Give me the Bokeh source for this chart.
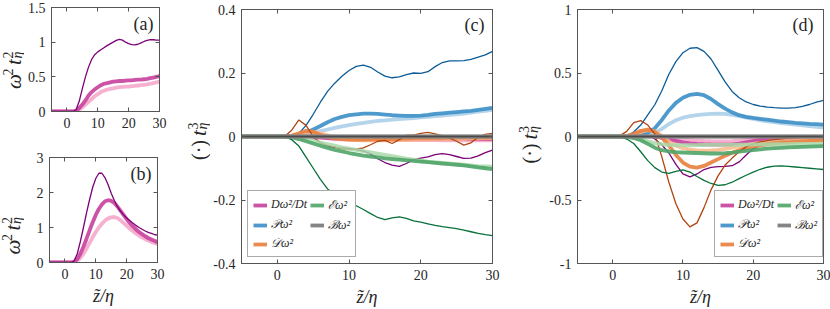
import math
from bokeh.plotting import figure
from bokeh.models import (Label, FixedTicker, LinearAxis, Legend, LegendItem,
                          Range1d, CustomJSTickFormatter)
from bokeh.layouts import row, column
from bokeh.embed import file_html
from bokeh.resources import INLINE

# ---------------- data ----------------
z = list(range(-5, 31))

# panel (a): omega^2 t_eta^2 (three cases)
a_dark = [0, 0, 0, 0, 0, 0, 0, 0.0, 0.03, 0.15, 0.33, 0.5, 0.64, 0.75, 0.82, 0.86, 0.89, 0.92, 0.95, 0.975,
          1.0, 1.025, 1.04, 1.03, 1.0, 0.98, 0.965, 0.96, 0.97, 0.99, 1.01, 1.025, 1.035, 1.035, 1.03, 1.03]
a_med = [0, 0, 0, 0, 0, 0, 0, 0.0, 0.01, 0.05, 0.1, 0.16, 0.23, 0.28, 0.32, 0.35, 0.38, 0.4, 0.41, 0.42,
         0.43, 0.435, 0.44, 0.44, 0.445, 0.45, 0.45, 0.455, 0.46, 0.46, 0.465, 0.47, 0.48, 0.49, 0.5, 0.51]
a_light = [0, 0, 0, 0, 0, 0, 0, 0.0, 0.005, 0.03, 0.06, 0.1, 0.14, 0.18, 0.22, 0.25, 0.28, 0.3, 0.315, 0.325,
           0.335, 0.345, 0.35, 0.355, 0.36, 0.36, 0.365, 0.37, 0.375, 0.38, 0.385, 0.39, 0.4, 0.41, 0.42, 0.43]

# panel (b)
b_dark = [0, 0, 0, 0, 0, 0, 0, 0.0, 0.05, 0.25, 0.6, 1.0, 1.42, 1.8, 2.15, 2.4, 2.55, 2.55, 2.42, 2.22,
          1.98, 1.77, 1.6, 1.47, 1.36, 1.27, 1.2, 1.13, 1.06, 1.0, 0.95, 0.9, 0.86, 0.83, 0.8, 0.78]
b_med = [0, 0, 0, 0, 0, 0, 0, 0.0, 0.02, 0.1, 0.25, 0.45, 0.68, 0.92, 1.15, 1.36, 1.53, 1.66, 1.75, 1.78,
         1.76, 1.7, 1.6, 1.48, 1.36, 1.24, 1.13, 1.03, 0.95, 0.87, 0.81, 0.75, 0.7, 0.66, 0.62, 0.58]
b_light = [0, 0, 0, 0, 0, 0, 0, 0.0, 0.01, 0.05, 0.13, 0.25, 0.4, 0.56, 0.72, 0.87, 1.0, 1.11, 1.2, 1.26,
           1.29, 1.3, 1.27, 1.21, 1.13, 1.05, 0.97, 0.9, 0.83, 0.77, 0.72, 0.67, 0.63, 0.59, 0.56, 0.53]

# panel (c): budget terms
c_M_dark = [0, 0, 0, 0, 0, 0, 0, 0.002, 0.008, 0.01, -0.003, -0.02, -0.03, -0.034, -0.036, -0.038, -0.041, -0.046, -0.055, -0.07,
            -0.082, -0.09, -0.094, -0.085, -0.072, -0.068, -0.064, -0.057, -0.054, -0.057, -0.063, -0.069, -0.068, -0.061, -0.051, -0.043]
c_M_med = [0, 0, 0, 0, 0, 0, 0, 0.0, 0.002, 0.003, 0.0, -0.003, -0.005, -0.006, -0.007, -0.008, -0.008, -0.008, -0.008, -0.008,
           -0.008, -0.008, -0.008, -0.008, -0.008, -0.008, -0.008, -0.008, -0.008, -0.008, -0.008, -0.008, -0.008, -0.008, -0.008, -0.008]
c_M_light = [0, 0, 0, 0, 0, 0, 0, 0.0, 0.001, 0.002, -0.001, -0.004, -0.006, -0.008, -0.009, -0.01, -0.01, -0.011, -0.011, -0.011,
             -0.011, -0.011, -0.011, -0.011, -0.011, -0.011, -0.011, -0.011, -0.012, -0.012, -0.012, -0.012, -0.012, -0.012, -0.012, -0.012]
c_P_dark = [0, 0, 0, 0, 0, 0, 0, 0.0, 0.01, 0.035, 0.07, 0.108, 0.142, 0.168, 0.19, 0.208, 0.221, 0.225, 0.218, 0.203,
            0.19, 0.185, 0.188, 0.195, 0.2, 0.199, 0.204, 0.22, 0.233, 0.238, 0.238, 0.239, 0.243, 0.25, 0.257, 0.268]
c_P_med = [0, 0, 0, 0, 0, 0, 0, 0.0, 0.003, 0.012, 0.022, 0.033, 0.045, 0.055, 0.062, 0.067, 0.07, 0.072, 0.072, 0.071,
           0.069, 0.067, 0.066, 0.065, 0.065, 0.066, 0.068, 0.071, 0.073, 0.075, 0.077, 0.079, 0.081, 0.084, 0.087, 0.09]
c_P_light = [0, 0, 0, 0, 0, 0, 0, 0.0, 0.002, 0.006, 0.011, 0.017, 0.022, 0.027, 0.032, 0.036, 0.04, 0.043, 0.046, 0.049,
             0.051, 0.053, 0.055, 0.056, 0.058, 0.06, 0.062, 0.064, 0.066, 0.068, 0.07, 0.072, 0.075, 0.078, 0.081, 0.084]
c_D_dark = [0, 0, 0, 0, 0, 0, 0, 0.02, 0.052, 0.035, 0.0, -0.02, -0.028, -0.033, -0.038, -0.041, -0.04, -0.036, -0.026, -0.015,
            -0.012, -0.022, -0.01, 0.004, 0.004, 0.01, 0.013, 0.008, 0.003, -0.005, -0.015, -0.027, -0.02, -0.002, 0.007, 0.01]
c_D_med = [0, 0, 0, 0, 0, 0, 0, 0.003, 0.01, 0.018, 0.015, 0.005, -0.002, -0.006, -0.008, -0.01, -0.01, -0.01, -0.009, -0.008,
           -0.008, -0.008, -0.007, -0.006, -0.005, -0.004, -0.004, -0.004, -0.004, -0.003, -0.003, -0.003, -0.003, -0.003, -0.003, -0.003]
c_D_light = [0, 0, 0, 0, 0, 0, 0, 0.002, 0.006, 0.012, 0.014, 0.01, 0.004, -0.002, -0.006, -0.009, -0.011, -0.012, -0.012, -0.012,
             -0.012, -0.011, -0.011, -0.011, -0.01, -0.01, -0.01, -0.009, -0.009, -0.009, -0.008, -0.008, -0.007, -0.007, -0.006, -0.006]
c_E_dark = [0, 0, 0, 0, 0, 0, 0, -0.01, -0.03, -0.065, -0.1, -0.135, -0.165, -0.183, -0.195, -0.206, -0.218, -0.23, -0.243, -0.255,
            -0.262, -0.256, -0.253, -0.258, -0.266, -0.27, -0.275, -0.28, -0.284, -0.287, -0.29, -0.295, -0.3, -0.305, -0.309, -0.312]
c_E_med = [0, 0, 0, 0, 0, 0, 0, -0.003, -0.008, -0.015, -0.022, -0.029, -0.036, -0.042, -0.047, -0.052, -0.056, -0.06, -0.063, -0.066,
           -0.069, -0.071, -0.073, -0.075, -0.077, -0.079, -0.081, -0.083, -0.085, -0.087, -0.089, -0.091, -0.094, -0.097, -0.1, -0.103]
c_E_light = [0, 0, 0, 0, 0, 0, 0, -0.002, -0.005, -0.009, -0.014, -0.019, -0.024, -0.029, -0.034, -0.038, -0.042, -0.046, -0.05, -0.054,
             -0.058, -0.062, -0.066, -0.07, -0.073, -0.076, -0.079, -0.081, -0.083, -0.085, -0.087, -0.089, -0.091, -0.093, -0.094, -0.095]
c_B = [0, 0, 0, 0, 0, 0, 0, 0, 0, 0, 0, 0, 0, 0, 0, 0, 0, 0, 0, 0,
       0, 0, 0, 0, 0, 0, 0, 0, 0, 0, 0, 0, 0, 0, 0, 0]

# panel (d)
d_M_dark = [0, 0, 0, 0, 0, 0, 0, 0.0, 0.015, 0.03, 0.015, -0.02, -0.065, -0.13, -0.22, -0.295, -0.318, -0.295, -0.26, -0.243,
            -0.237, -0.236, -0.23, -0.2, -0.145, -0.095, -0.066, -0.05, -0.04, -0.032, -0.026, -0.021, -0.017, -0.013, -0.01, -0.008]
d_M_med = [0, 0, 0, 0, 0, 0, 0, 0.0, 0.005, 0.012, 0.01, 0.0, -0.01, -0.022, -0.035, -0.046, -0.054, -0.058, -0.061, -0.063,
           -0.064, -0.064, -0.062, -0.056, -0.046, -0.036, -0.027, -0.02, -0.015, -0.011, -0.009, -0.007, -0.006, -0.005, -0.004, -0.004]
d_M_light = [0, 0, 0, 0, 0, 0, 0, 0.0, 0.002, 0.005, 0.004, 0.0, -0.005, -0.011, -0.017, -0.023, -0.028, -0.032, -0.035, -0.037,
             -0.038, -0.038, -0.036, -0.032, -0.027, -0.022, -0.017, -0.013, -0.01, -0.008, -0.006, -0.005, -0.004, -0.003, -0.003, -0.002]
d_P_dark = [0, 0, 0, 0, 0, 0, 0, 0.005, 0.035, 0.09, 0.17, 0.25, 0.36, 0.49, 0.59, 0.66, 0.695, 0.7, 0.67, 0.61,
            0.52, 0.43, 0.355, 0.305, 0.272, 0.252, 0.24, 0.232, 0.227, 0.224, 0.224, 0.228, 0.238, 0.252, 0.27, 0.285]
d_P_med = [0, 0, 0, 0, 0, 0, 0, 0.0, 0.003, 0.012, 0.03, 0.065, 0.13, 0.205, 0.265, 0.305, 0.328, 0.336, 0.325, 0.295,
           0.255, 0.22, 0.19, 0.168, 0.155, 0.146, 0.139, 0.132, 0.125, 0.118, 0.113, 0.108, 0.104, 0.1, 0.097, 0.094]
d_P_light = [0, 0, 0, 0, 0, 0, 0, 0.0, 0.0, 0.003, 0.012, 0.03, 0.06, 0.098, 0.128, 0.148, 0.16, 0.168, 0.174, 0.178,
             0.18, 0.178, 0.17, 0.16, 0.148, 0.138, 0.128, 0.12, 0.113, 0.106, 0.1, 0.093, 0.087, 0.081, 0.076, 0.07]
d_D_dark = [0, 0, 0, 0, 0, 0, 0.005, 0.04, 0.11, 0.125, 0.09, 0.02, -0.16, -0.36, -0.53, -0.65, -0.712, -0.68, -0.56, -0.42,
            -0.31, -0.225, -0.17, -0.12, -0.08, -0.058, -0.043, -0.032, -0.024, -0.018, -0.013, -0.01, -0.007, -0.005, -0.003, -0.001]
d_D_med = [0, 0, 0, 0, 0, 0, 0, 0.005, 0.02, 0.045, 0.055, 0.035, -0.01, -0.07, -0.145, -0.205, -0.238, -0.245, -0.232, -0.205,
           -0.178, -0.152, -0.128, -0.108, -0.092, -0.079, -0.069, -0.061, -0.055, -0.05, -0.046, -0.042, -0.038, -0.035, -0.032, -0.03]
d_D_light = [0, 0, 0, 0, 0, 0, 0, 0.004, 0.015, 0.035, 0.05, 0.04, 0.005, -0.04, -0.072, -0.092, -0.103, -0.109, -0.111, -0.11,
             -0.105, -0.097, -0.088, -0.078, -0.068, -0.058, -0.05, -0.043, -0.037, -0.032, -0.028, -0.025, -0.023, -0.021, -0.02, -0.02]
d_E_dark = [0, 0, 0, 0, 0, 0, 0, -0.02, -0.055, -0.12, -0.19, -0.245, -0.28, -0.29, -0.275, -0.262, -0.28, -0.315, -0.345, -0.37,
            -0.385, -0.38, -0.36, -0.332, -0.305, -0.28, -0.258, -0.242, -0.233, -0.231, -0.235, -0.24, -0.245, -0.25, -0.255, -0.26]
d_E_med = [0, 0, 0, 0, 0, 0, 0, -0.003, -0.012, -0.03, -0.058, -0.088, -0.108, -0.118, -0.123, -0.126, -0.128, -0.13, -0.132, -0.134,
           -0.134, -0.132, -0.127, -0.12, -0.113, -0.107, -0.101, -0.096, -0.092, -0.089, -0.086, -0.084, -0.082, -0.08, -0.078, -0.076]
d_E_light = [0, 0, 0, 0, 0, 0, 0, -0.002, -0.008, -0.02, -0.037, -0.052, -0.061, -0.066, -0.068, -0.069, -0.069, -0.068, -0.067, -0.066,
             -0.066, -0.066, -0.065, -0.065, -0.064, -0.063, -0.062, -0.062, -0.061, -0.06, -0.06, -0.059, -0.059, -0.058, -0.058, -0.057]
d_B = [0, 0, 0, 0, 0, 0, 0, 0, 0, 0, 0, 0, 0, 0, 0, 0, 0, 0, 0, 0,
       0, 0, 0, 0, 0, 0, 0, 0, 0, 0, 0, 0, 0, 0, 0, 0]

x_ticks = [0, 10, 20, 30]
x_tick_labels = ["0", "10", "20", "30"]
a_yticks = [0, 0.5, 1, 1.5]
a_ylabels = ["0", "0.5", "1", "1.5"]
b_yticks = [0, 1, 2, 3]
b_ylabels = ["0", "1", "2", "3"]
c_yticks = [-0.4, -0.2, 0, 0.2, 0.4]
c_ylabels = ["-0.4", "-0.2", "0", "0.2", "0.4"]
d_yticks = [-1, -0.5, 0, 0.5, 1]
d_ylabels = ["-1", "-0.5", "0", "0.5", "1"]

legend_labels = ["D\u03c9\u00b2/Dt", "\U0001D4AB\u03c9\u00b2", "\U0001D49F\u03c9\u00b2", "\u2130\u03c9\u00b2", "\u212C\u03c9\u00b2"]
x_title = "z\u0303/\u03b7"

# ---------------- style ----------------
FONT = "Liberation Serif"
TXT = "#262626"
AX = "#555555"
MAG = ("#7a0177", "#c7409c", "#f4a3c8")
BLU = ("#0b5c98", "#3c8fc7", "#a7cde8")
ORA = ("#b04510", "#e8803f", "#fbb98a")
GRN = ("#08703a", "#4fa469", "#a9d9a8")
GRY = ("#4a4a4a", "#777777", "#bbbbbb")
XR = (-5, 30)


def base_fig(fw, fh, yr, bl, br, bt, bb):
    p = figure(frame_width=fw, frame_height=fh, x_range=Range1d(*XR), y_range=Range1d(*yr),
               output_backend="svg", toolbar_location=None,
               min_border_left=bl, min_border_right=br, min_border_top=bt, min_border_bottom=bb)
    p.grid.visible = False
    p.outline_line_color = AX
    p.background_fill_color = "white"
    p.border_fill_color = "white"
    return p


def style_axis(ax, ticks, labels, standoff=6):
    ax.ticker = FixedTicker(ticks=ticks, minor_ticks=[])
    if labels is None:
        ax.formatter = CustomJSTickFormatter(code="return ''")
        ax.major_label_text_font_size = "1px"
        ax.major_label_standoff = 0
    else:
        ax.major_label_overrides = {t: s for t, s in zip(ticks, labels)}
        ax.major_label_text_font = FONT
        ax.major_label_text_font_size = "14px"
        ax.major_label_text_color = TXT
        ax.major_label_standoff = standoff
    ax.axis_line_color = AX
    ax.major_tick_line_color = AX
    ax.major_tick_in = 4
    ax.major_tick_out = 0
    ax.minor_tick_line_color = None


def box_axes(p, yticks, ylabels, with_xtitle):
    xa = p.xaxis[0]
    style_axis(xa, x_ticks, x_tick_labels, 6)
    if with_xtitle:
        xa.axis_label = x_title
        xa.axis_label_text_font = FONT
        xa.axis_label_text_font_style = "italic"
        xa.axis_label_text_font_size = "18px"
        xa.axis_label_text_color = TXT
        xa.axis_label_standoff = 4
    style_axis(p.yaxis[0], yticks, ylabels, 6)
    top = LinearAxis()
    style_axis(top, x_ticks, None)
    p.add_layout(top, "above")
    rgt = LinearAxis()
    style_axis(rgt, yticks, None)
    p.add_layout(rgt, "right")


def draw_set(p, dark, med, light, cols):
    p.line(z, light, line_color=cols[2], line_width=3.8, line_alpha=0.85)
    rm = p.line(z, med, line_color=cols[1], line_width=3.8, line_alpha=0.9)
    p.line(z, dark, line_color=cols[0], line_width=1.3)
    return rm


def txt(p, x, y, text, size, italic=False, angle=0.0, align="left", baseline="alphabetic", dx=0, dy=0):
    p.add_layout(Label(x=x, y=y, text=text, x_offset=dx, y_offset=dy, angle=angle,
                       text_font=FONT, text_font_size=f"{size}px",
                       text_font_style="italic" if italic else "normal",
                       text_align=align, text_baseline=baseline, text_color=TXT))


def label_fig(w, h, mid_x, center_y, pieces, length):
    """Narrow strip holding a rotated y title; 1 data unit = 1 pixel.
    pieces: (text, along, perp, size, italic); perp > 0 moves toward the text's 'up' (screen left)."""
    f = figure(frame_width=w, frame_height=h, x_range=Range1d(0, w), y_range=Range1d(0, h),
               output_backend="svg", toolbar_location=None, x_axis_type=None, y_axis_type=None,
               min_border_left=0, min_border_right=0, min_border_top=0, min_border_bottom=0)
    f.grid.visible = False
    f.outline_line_color = None
    f.background_fill_color = "white"
    f.border_fill_color = "white"
    start = center_y - length / 2
    for t, along, perp, size, it in pieces:
        txt(f, mid_x - perp, start + along, t, size, it, angle=math.pi / 2, baseline="middle")
    return f


def tag(p, ymax, s, dx, dy):
    txt(p, XR[1], ymax, s, 18, False, align="right", baseline="top", dx=dx, dy=dy)


W2 = [("\u03c9", 0, 0, 21, True), ("2", 13.5, 6, 14, False), ("t", 24, 0, 21, True),
      ("2", 30.5, 6, 14, False), ("\u03b7", 30.5, -4, 14, True)]
W3 = [("(\u00b7)", 0, 0, 20, False), ("t", 24, 0, 21, True),
      ("3", 30.5, 6, 14, False), ("\u03b7", 30.5, -4, 14, True)]

# ---------------- panel (a) ----------------
pa = base_fig(108, 104, (0, 1.5), 25, 18, 7, 24)
box_axes(pa, a_yticks, a_ylabels, False)
draw_set(pa, a_dark, a_med, a_light, MAG)
tag(pa, 1.5, "(a)", -6, -6)
la = label_fig(24, 135, 13, 72.5, W2, 38)

# ---------------- panel (b) ----------------
pb = base_fig(108, 105, (0, 3), 25, 18, 22, 47)
box_axes(pb, b_yticks, b_ylabels, True)
draw_set(pb, b_dark, b_med, b_light, MAG)
tag(pb, 3, "(b)", -6, -6)
lb = label_fig(24, 174, 12, 96, W2, 38)


def budget(p, M, P, D, E, B, loc):
    rM = draw_set(p, *M, MAG)
    rP = draw_set(p, *P, BLU)
    rD = draw_set(p, *D, ORA)
    rE = draw_set(p, *E, GRN)
    rB = draw_set(p, *B, GRY)
    items = [LegendItem(label=legend_labels[0], renderers=[rM]),
             LegendItem(label=legend_labels[1], renderers=[rP]),
             LegendItem(label=legend_labels[2], renderers=[rD]),
             LegendItem(label=legend_labels[3], renderers=[rE]),
             LegendItem(label=legend_labels[4], renderers=[rB])]
    leg = Legend(items=items, location=loc, ncols=2,
                 label_text_font=FONT, label_text_font_style="italic", label_text_font_size="12px",
                 label_text_color=TXT, glyph_width=14, glyph_height=14, label_height=14,
                 label_standoff=4, spacing=3, padding=5, margin=0,
                 border_line_color=AX, border_line_width=1, background_fill_alpha=1.0)
    p.add_layout(leg)


# ---------------- panel (c) ----------------
pc = base_fig(251, 254, (-0.4, 0.4), 31, 10, 9, 46)
box_axes(pc, c_yticks, c_ylabels, True)
budget(pc, (c_M_dark, c_M_med, c_M_light), (c_P_dark, c_P_med, c_P_light),
       (c_D_dark, c_D_med, c_D_light), (c_E_dark, c_E_med, c_E_light), (c_B, c_B, c_B), (6, 6))
tag(pc, 0.4, "(c)", -8, -5)
lc = label_fig(33, 309, 21, 177.5, W3, 38)

# ---------------- panel (d) ----------------
pd = base_fig(246, 254, (-1, 1), 35, 9, 9, 46)
box_axes(pd, d_yticks, d_ylabels, True)
budget(pd, (d_M_dark, d_M_med, d_M_light), (d_P_dark, d_P_med, d_P_light),
       (d_D_dark, d_D_med, d_D_light), (d_E_dark, d_E_med, d_E_light), (d_B, d_B, d_B), (137, 6))
tag(pd, 1, "(d)", -10, -5)
ld = label_fig(40, 309, 27, 174, W3, 38)

layout = row(column(row(la, pa), row(lb, pb)), lc, pc, ld, pd)
open("out.html", "w").write(file_html(layout, INLINE))
